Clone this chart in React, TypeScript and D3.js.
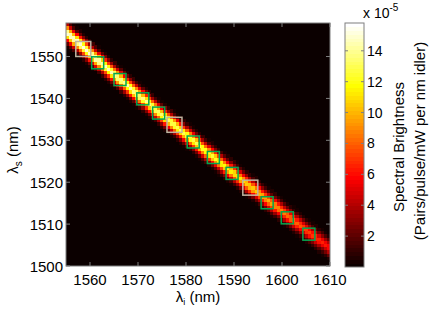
import React from "react";
import * as d3 from "d3";

// Ridge of the joint spectrum (idler nm -> signal nm, peak in 1e-5 units)
const ridgeIdler = [1555, 1560, 1565, 1570, 1575, 1580, 1585, 1590, 1595, 1600, 1605, 1610];
const ridgeSignal = [1555.9, 1550.8, 1545.8, 1540.9, 1536.1, 1531.4, 1526.7, 1522.1, 1517.6, 1513.1, 1508.6, 1504.3];
const ridgePeak = [15.8, 15.3, 14.7, 14.2, 13.8, 13.3, 12.7, 11.7, 10.5, 9.0, 7.6, 6.2];

// Cross-section of the ridge along the signal axis (offset nm, relative value)
const profileOffset = [-3.6, -3.0, -2.5, -2.0, -1.5, -1.0, -0.5, 0, 0.5, 1.0, 1.5, 2.0, 2.5, 3.0, 3.6];
const profileValue = [0.0, 0.05, 0.13, 0.28, 0.48, 0.7, 0.9, 1, 0.9, 0.7, 0.48, 0.28, 0.13, 0.05, 0.0];

// Marked regions (centers)
const squareIdler = [1558.6, 1561.6, 1566.25, 1571.0, 1574.3, 1577.6, 1581.5, 1585.7, 1589.6, 1593.4, 1596.9, 1601.1, 1605.6];
const squareSignal = [1551.8, 1548.5, 1544.5, 1539.9, 1536.5, 1533.7, 1529.6, 1525.9, 1522.1, 1518.7, 1515.1, 1511.5, 1507.6];
const squareKind = ["gray", "green", "green", "green", "green", "gray", "green", "green", "green", "gray", "green", "green", "green"];

const xTicks = [1560, 1570, 1580, 1590, 1600, 1610];
const yTicks = [1500, 1510, 1520, 1530, 1540, 1550];
const cTicks = [2, 4, 6, 8, 10, 12, 14];

const X0 = 1555, X1 = 1610, Y0 = 1500, Y1 = 1558;
const C_MAX = 15.8;
const NX = 84, NY = 76;

const x = d3.scaleLinear().domain([X0, X1]).range([66, 330]);
const y = d3.scaleLinear().domain([Y0, Y1]).range([266, 23]);
const cy = d3.scaleLinear().domain([0, C_MAX]).range([267, 23]);

function hot(t: number): string {
  const i = Math.max(0, Math.min(63, Math.floor(t * 64)));
  const k = i + 1;
  const r = Math.min(1, k / 24);
  const g = Math.max(0, Math.min(1, (k - 24) / 24));
  const b = Math.max(0, Math.min(1, (k - 48) / 16));
  return d3.rgb(r * 255, g * 255, b * 255).toString();
}

const ridgeAt = d3.scaleLinear().domain(ridgeIdler).range(ridgeSignal).clamp(true);
const peakAt = d3.scaleLinear().domain(ridgeIdler).range(ridgePeak).clamp(true);
const profAt = d3.scaleLinear().domain(profileOffset).range(profileValue).clamp(true);

export default function App() {
  const dx = (X1 - X0) / NX;
  const dy = (Y1 - Y0) / NY;
  const cells: React.ReactNode[] = [];
  for (let i = 0; i < NX; i++) {
    const li = X0 + (i + 0.5) * dx;
    const c = ridgeAt(li);
    const p = peakAt(li);
    for (let j = 0; j < NY; j++) {
      const ls = Y0 + (j + 0.5) * dy;
      const v = p * profAt(ls - c);
      if (v / C_MAX < 1 / 64) continue;
      const xa = x(X0 + i * dx), xb = x(X0 + (i + 1) * dx);
      const ya = y(Y0 + (j + 1) * dy), yb = y(Y0 + j * dy);
      cells.push(
        <rect key={`${i}-${j}`} x={xa} y={ya} width={xb - xa + 0.3} height={yb - ya + 0.3} fill={hot(v / C_MAX)} />
      );
    }
  }

  const bands = d3.range(64).map((k) => {
    const va = (k / 64) * C_MAX, vb = ((k + 1) / 64) * C_MAX;
    return <rect key={k} x={345} y={cy(vb)} width={19} height={cy(va) - cy(vb) + 0.4} fill={hot((k + 0.5) / 64)} />;
  });

  const font = "Liberation Sans, Arial, sans-serif";
  const axisGray = "#7f7f7f";

  return (
    <div style={{ position: "fixed", left: 0, top: 0 }}>
      <svg width={436} height={312} style={{ display: "block", background: "#fff" }} fontFamily={font}>
        <defs>
          <clipPath id="plot">
            <rect x={66} y={23} width={264} height={243} />
          </clipPath>
        </defs>
        <rect x={66} y={23} width={264} height={243} fill={hot(0)} />
        <g clipPath="url(#plot)" shapeRendering="crispEdges">{cells}</g>
        <g fill="none" strokeWidth={1.5}>
          {squareIdler.map((si, k) => {
            const s = squareKind[k] === "gray" ? 15 : 12;
            return (
              <rect
                key={k}
                x={x(si) - s / 2}
                y={y(squareSignal[k]) - s / 2}
                width={s}
                height={s}
                stroke={squareKind[k] === "gray" ? "#bdb4a0" : "#00a651"}
              />
            );
          })}
        </g>
        {/* axes ticks */}
        <g stroke={axisGray} strokeWidth={1}>
          {xTicks.map((t) => (
            <g key={t}>
              <line x1={x(t)} x2={x(t)} y1={266} y2={262} />
              <line x1={x(t)} x2={x(t)} y1={23} y2={27} />
            </g>
          ))}
          {yTicks.map((t) => (
            <g key={t}>
              <line x1={66} x2={70} y1={y(t)} y2={y(t)} />
              <line x1={330} x2={326} y1={y(t)} y2={y(t)} />
            </g>
          ))}
        </g>
        <rect x={66} y={23} width={264} height={243} fill="none" stroke={axisGray} strokeWidth={1} />
        <g fontSize={15} fill="#000">
          {xTicks.map((t) => (
            <text key={t} x={x(t)} y={285} textAnchor="middle">{t}</text>
          ))}
          {yTicks.map((t) => (
            <text key={t} x={63} y={y(t)} textAnchor="end" dominantBaseline="central">{t}</text>
          ))}
          <text x={198} y={302} textAnchor="middle">
            λ<tspan fontSize={9} dy={3}>i</tspan>
            <tspan dy={-3}> (nm)</tspan>
          </text>
          <text transform="translate(18,150) rotate(-90)" textAnchor="middle">
            λ<tspan fontSize={10} dy={4}>s</tspan>
            <tspan dy={-4}> (nm)</tspan>
          </text>
        </g>
        {/* colorbar */}
        <g shapeRendering="crispEdges">{bands}</g>
        <g stroke={axisGray} strokeWidth={1}>
          {cTicks.map((t) => (
            <g key={t}>
              <line x1={345} x2={348} y1={cy(t)} y2={cy(t)} />
              <line x1={364} x2={361} y1={cy(t)} y2={cy(t)} />
            </g>
          ))}
        </g>
        <rect x={345} y={23} width={19} height={244} fill="none" stroke={axisGray} strokeWidth={1} />
        <g fontSize={14} fill="#000">
          {cTicks.map((t) => (
            <text key={t} x={367} y={cy(t)} dominantBaseline="central">{t}</text>
          ))}
          <text x={363} y={18}>
            x 10<tspan fontSize={10} dy={-7}>-5</tspan>
          </text>
          <text transform="translate(398,147) rotate(-90)" textAnchor="middle" dominantBaseline="central" fontSize={15}>
            Spectral Brightness
          </text>
          <text transform="translate(419,141) rotate(-90)" textAnchor="middle" dominantBaseline="central" fontSize={15}>
            (Pairs/pulse/mW per nm idler)
          </text>
        </g>
      </svg>
    </div>
  );
}
